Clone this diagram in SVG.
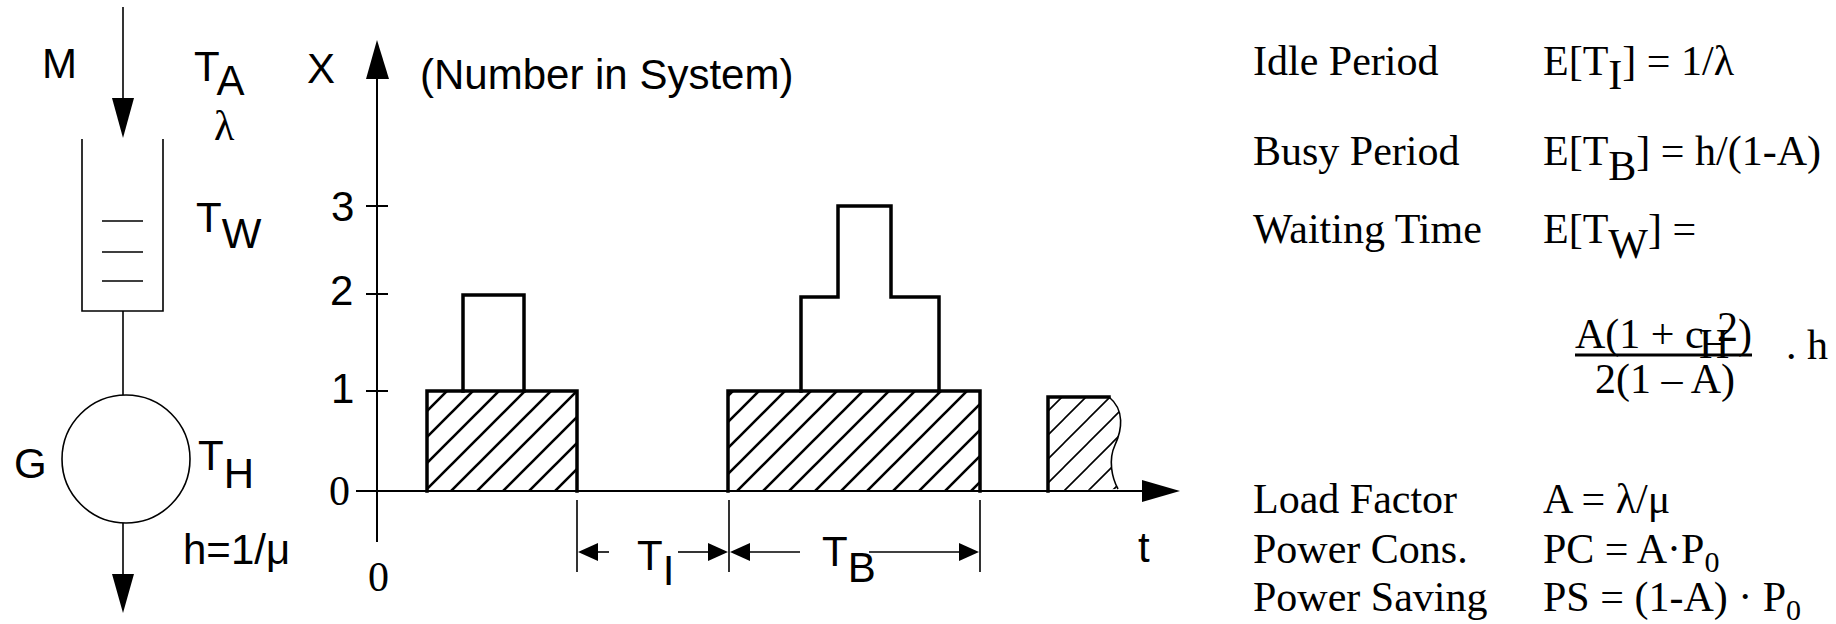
<svg xmlns="http://www.w3.org/2000/svg" width="1836" height="624" viewBox="0 0 1836 624">
<defs>
<style>
.sans{font-family:"Liberation Sans",Arial,sans-serif;font-size:42px;fill:#000}
.serif{font-family:"Liberation Serif","Times New Roman",serif;font-size:42px;fill:#000}
.thin{stroke:#000;stroke-width:1.6;fill:none}
.axis{stroke:#000;stroke-width:2;fill:none}
.thick{stroke:#000;stroke-width:3.5;fill:none;stroke-linecap:square}
.head{fill:#000;stroke:none}
</style>
<pattern id="hatch" patternUnits="userSpaceOnUse" width="26" height="26" x="425" y="491">
<path d="M0,26 L26,0 M-6.5,6.5 L6.5,-6.5 M19.5,32.5 L32.5,19.5" stroke="#000" stroke-width="2.6"/>
</pattern>
<pattern id="hatchThin" patternUnits="userSpaceOnUse" width="24" height="24" x="1040" y="491">
<path d="M0,24 L24,0 M-6,6 L6,-6 M18,30 L30,18" stroke="#000" stroke-width="1.6"/>
</pattern>
</defs>
<rect width="1836" height="624" fill="#fff"/>

<g id="queue-model">
<text class="sans" x="42" y="78">M</text>
<text class="sans" x="194" y="81">T<tspan dy="14">A</tspan></text>
<text class="serif" x="214" y="140" font-size="44">λ</text>
<path class="thin" d="M82,139 V311 H163 V139"/>
<path class="thin" d="M102,221 H143 M102,252 H143 M102,281 H143"/>
<text class="sans" x="196" y="232">T<tspan dy="16">W</tspan></text>
<circle id="server" class="thin" cx="126" cy="459" r="64" stroke-width="1.3"/>
<text class="sans" x="14" y="478">G</text>
<text class="sans" x="198" y="470">T<tspan dy="18">H</tspan></text>
<text class="sans" x="183" y="564">h=1/μ</text>
</g>

<g id="connectors">
<line class="thin" x1="123" y1="7" x2="123" y2="100"/>
<polygon class="head" points="123,138 112,98 134,98"/>
<line class="thin" x1="123" y1="311" x2="123" y2="395"/>
<line class="thin" x1="123" y1="523" x2="123" y2="576"/>
<polygon class="head" points="123,613 112,574 134,574"/>
</g>

<g id="axes">
<line class="axis" x1="377" y1="542" x2="377" y2="78"/>
<polygon class="head" points="377,40 366,79 389,79"/>
<line class="axis" x1="356" y1="491" x2="1144" y2="491"/>
<polygon class="head" points="1180,491 1142,480 1142,502"/>
<path class="axis" d="M366,206 H388 M366,294 H388 M366,391 H388"/>
<text class="sans" x="307" y="83">X</text>
<text class="sans" x="420" y="89">(Number in System)</text>
<text class="sans" x="331" y="221">3</text>
<text class="sans" x="330" y="305">2</text>
<text class="sans" x="331" y="403">1</text>
<text class="serif" x="329" y="505">0</text>
<text class="serif" x="368" y="591">0</text>
<text class="sans" x="1138" y="562">t</text>
</g>

<g id="busy-period-1">
<rect x="427" y="391" width="150" height="100" fill="url(#hatch)"/>
<path class="thick" d="M427,491 V391 H577 V491"/>
<path class="thick" d="M463,391 V295 H524 V391"/>
</g>

<g id="busy-period-2">
<rect x="728" y="391" width="252" height="100" fill="url(#hatch)"/>
<path class="thick" d="M728,491 V391 H980 V491"/>
<path class="thick" d="M801,391 V297 H838 V206 H891 V297 H939 V391"/>
</g>

<g id="busy-period-3">
<path d="M1048,491 V397 H1109 C1125,410 1122,430 1115,445 C1108,460 1112,478 1118,489 Z" fill="url(#hatchThin)" stroke="none"/>
<path class="thick" d="M1048,491 V397 H1109"/>
<path class="thin" d="M1109,397 C1125,410 1122,430 1115,445 C1108,460 1112,478 1118,489"/>
</g>

<g id="dimensions">
<path class="thin" d="M577,500 V572 M729,500 V572 M980,500 V572"/>
<polygon class="head" points="578,552 598,543 598,561"/>
<line class="thin" x1="596" y1="552" x2="609" y2="552"/>
<line class="thin" x1="678" y1="552" x2="710" y2="552"/>
<polygon class="head" points="728,552 708,543 708,561"/>
<text class="sans" x="637" y="570" font-size="36">T<tspan dy="15">I</tspan></text>
<polygon class="head" points="730,552 750,543 750,561"/>
<line class="thin" x1="748" y1="552" x2="800" y2="552"/>
<line class="thin" x1="869" y1="552" x2="962" y2="552"/>
<polygon class="head" points="979,552 959,543 959,561"/>
<text class="sans" x="822" y="566" font-size="36">T<tspan dy="16">B</tspan></text>
</g>

<g id="formulas">
<text class="serif" x="1253" y="75">Idle Period</text>
<text class="serif" x="1543" y="75">E[T<tspan dy="14">I</tspan><tspan dy="-14">] = 1/λ</tspan></text>
<text class="serif" x="1253" y="165">Busy Period</text>
<text class="serif" x="1543" y="165">E[T<tspan dy="15">B</tspan><tspan dy="-15">] = h/(1-A)</tspan></text>
<text class="serif" x="1253" y="243">Waiting Time</text>
<text class="serif" x="1543" y="243">E[T<tspan dy="15">W</tspan><tspan dy="-15">] =</tspan></text>
<text class="serif" x="1575" y="348" font-size="40">A(1 + c</text>
<text class="serif" x="1699" y="358" font-size="22">H</text>
<text class="serif" x="1717" y="341" font-size="24">2</text>
<text class="serif" x="1738" y="348" font-size="40">)</text>
<line x1="1575" y1="355" x2="1752" y2="355" stroke="#000" stroke-width="3"/>
<text class="serif" x="1595" y="393" font-size="40">2(1 – A)</text>
<text class="serif" x="1786" y="359">. h</text>
<text class="serif" x="1253" y="513">Load Factor</text>
<text class="serif" x="1543" y="513">A = λ/μ</text>
<text class="serif" x="1253" y="563">Power Cons.</text>
<text class="serif" x="1543" y="563">PC = A·P<tspan dy="9" font-size="30">0</tspan></text>
<text class="serif" x="1253" y="611">Power Saving</text>
<text class="serif" x="1543" y="611">PS = (1-A) · P<tspan dy="9" font-size="30">0</tspan></text>
</g>
</svg>
